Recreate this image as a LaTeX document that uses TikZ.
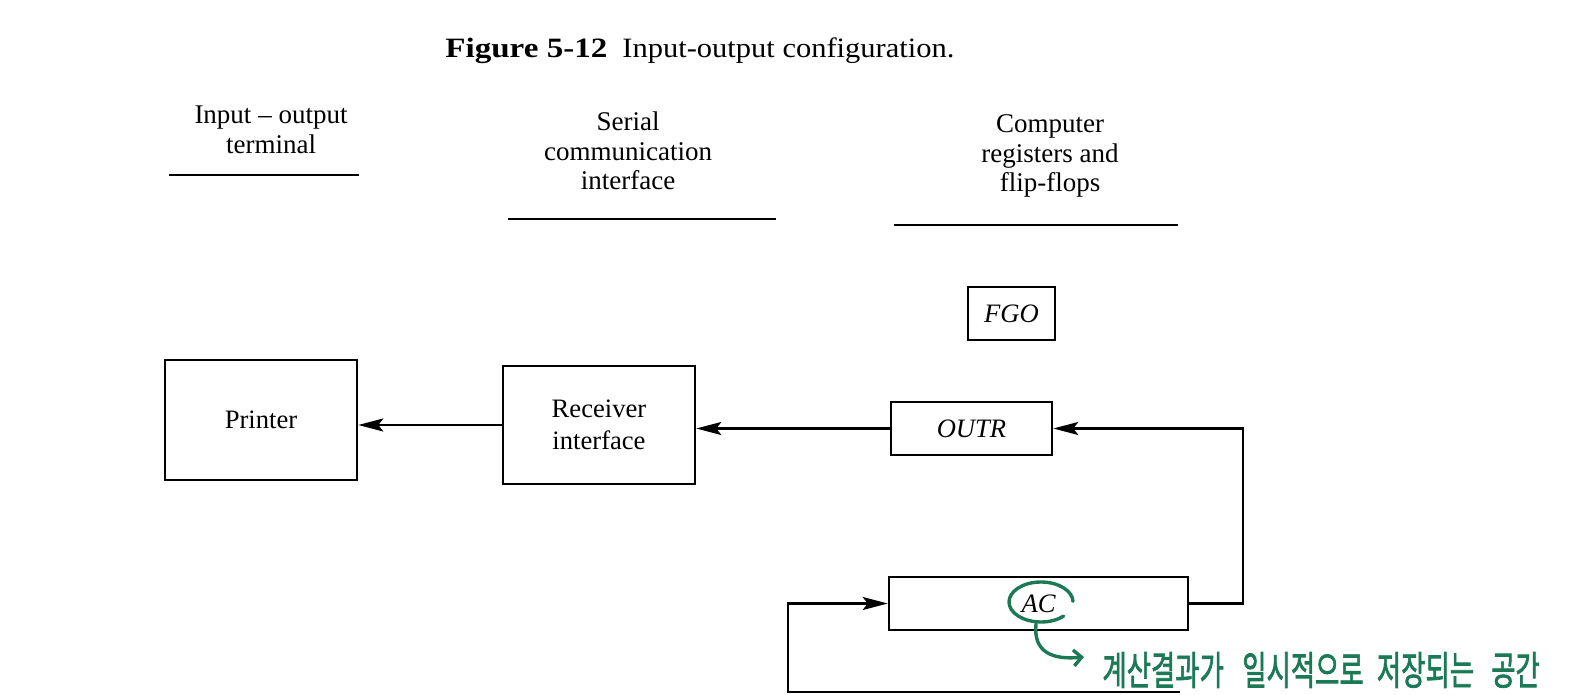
\documentclass[tikz,border=0pt]{standalone}
\usepackage{graphicx}
\usepackage{fontspec}
\setmainfont{Liberation Serif}
\newfontfamily\krfont[FakeBold=2]{Noto Sans CJK KR}
\usetikzlibrary{arrows.meta}
\definecolor{pen}{HTML}{1B7A55}
\begin{document}
\begin{tikzpicture}[x=0.5pt,y=-0.5pt,
  box/.style={draw, line width=1.3pt, inner sep=0pt, align=center,
    font=\fontsize{13.3}{16}\selectfont},
  hdr/.style={inner sep=0pt, align=center, font=\fontsize{13.5}{14.8}\selectfont},
  rule/.style={line width=1.3pt},
  wire/.style={line width=1.25pt},
  arr/.style={wire, -{Stealth[length=12.5pt,width=6.5pt,inset=2.5pt]}},
  note/.style={pen, line width=1.7pt, line cap=round}]
\useasboundingbox (0,0) rectangle (1596,695);

% title
\node[inner sep=0pt, anchor=west] (t1) at (445,51)
  {\resizebox{81pt}{\height}{\fontsize{14}{16}\selectfont\bfseries Figure 5-12}};
\node[inner sep=0pt, anchor=west] (t2) at (622,51)
  {\resizebox{166pt}{\height}{\fontsize{14}{16}\selectfont Input-output configuration.}};

% headers
\node[hdr] (h1) at (271,130) {Input -- output\\terminal};
\coordinate (u1a) at (169,175); \coordinate (u1b) at (359,175);
\draw[rule] (u1a) -- (u1b);
\node[hdr] (h2) at (628,151) {Serial\\communication\\interface};
\coordinate (u2a) at (508,219); \coordinate (u2b) at (776,219);
\draw[rule] (u2a) -- (u2b);
\node[hdr] (h3) at (1050,156) {Computer\\registers and\\flip-flops};
\coordinate (u3a) at (894,225); \coordinate (u3b) at (1178,225);
\draw[rule] (u3a) -- (u3b);

% boxes
\node[box, minimum width=96pt, minimum height=60pt] (printer) at (261,420) {Printer};
\node[box, minimum width=96pt, minimum height=59pt] (recv) at (599,425) {Receiver\\interface};
\node[box, minimum width=43.5pt, minimum height=26.5pt] (fgo) at (1011.5,313.5) {\itshape FGO};
\node[box, minimum width=80.5pt, minimum height=26.5pt] (outr) at (971.5,428.5) {\itshape OUTR};
\node[box, minimum width=149.5pt, minimum height=26.5pt] (ac) at (1038.5,603.5) {\itshape AC};

% connectors
\draw[arr] (outr.west) -- (recv.east |- outr.west);
\draw[arr] (recv.west) -- (printer.east |- recv.west);
\coordinate (rc) at (1243,500);
\draw[arr] (ac.east) -- (ac.east -| rc) -- (rc |- outr.east) -- (outr.east);
\coordinate (b1) at (1180,692);
\coordinate (b2) at (788,692);
\draw[arr] (b1) -- (b2) -- (b2 |- ac.west) -- (ac.west);

% green annotation
\coordinate (ring) at (1041,602);
\draw[note] (ring) ++(45:32 and 20) arc[start angle=45, end angle=358, x radius=32, y radius=20];
\coordinate (cs) at (1036,624);
\coordinate (ce) at (1084,657);
\draw[note, -{Straight Barb[length=4pt,width=8pt]}] (cs) .. controls (1033,652) and (1052,660) .. (ce);
\node[anchor=west, inner sep=0pt, text=pen] (kr) at (1102,670)
  {\scalebox{1}[1.5]{\krfont\fontsize{13.2}{15}\selectfont 계산결과가\hspace{0.7em}일시적으로\hspace{0.5em}저장되는\hspace{0.65em}공간}};
\end{tikzpicture}
\end{document}
